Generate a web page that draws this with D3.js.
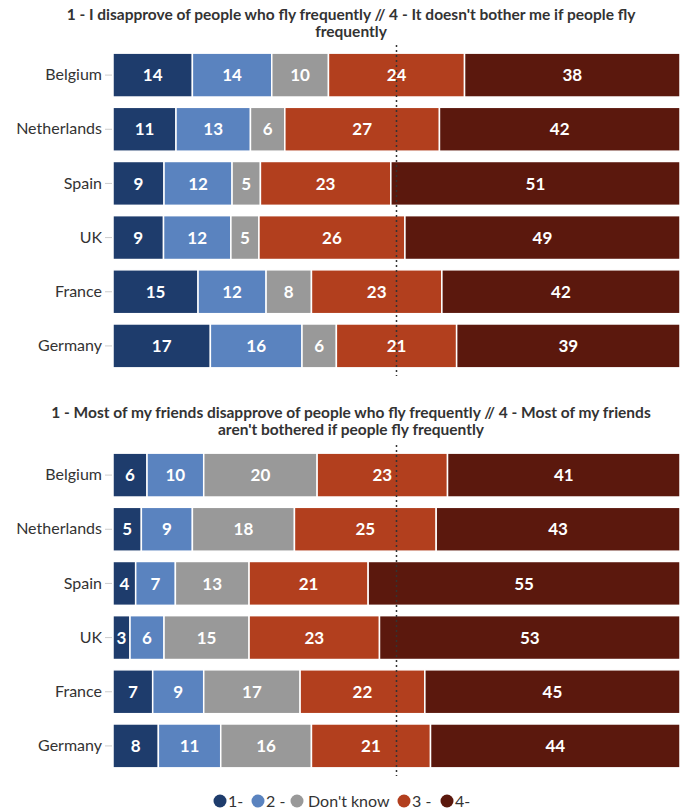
<!DOCTYPE html>
<html lang="en">
<head>
    <meta charset="UTF-8">
    <title>Attitudes to frequent flying</title>
    <script src="https://d3js.org/d3.v7.min.js"></script>
    <style>
        body {
            margin: 0;
            background: #fff;
            font-family: Lato, "Open Sans", sans-serif;
        }

        .title {
            font-size: 15.5px;
            font-weight: bold;
            fill: #333;
            text-anchor: middle;
        }

        .country {
            font-size: 16px;
            fill: #333;
            text-anchor: end;
        }

        .seg-label {
            font-size: 17px;
            font-weight: bold;
            fill: #fff;
            text-anchor: middle;
        }

        .legend text {
            font-size: 16px;
            fill: #333;
        }
    </style>
</head>
<body>
    <svg width="680" height="809"></svg>

    <script>
        var countries = ["Belgium", "Netherlands", "Spain", "UK", "France", "Germany"];
        var answers = ["1-", "2 -", "Don't know", "3 -", "4-"];
        var colors = ["#1e3c6c", "#5a83bf", "#999999", "#b23f1e", "#5b180d"];

        // values per country, in the order of answers
        var selfValues = [
            [14, 14, 10, 24, 38],
            [11, 13, 6, 27, 42],
            [9, 12, 5, 23, 51],
            [9, 12, 5, 26, 49],
            [15, 12, 8, 23, 42],
            [17, 16, 6, 21, 39]
        ];
        var friendsValues = [
            [6, 10, 20, 23, 41],
            [5, 9, 18, 25, 43],
            [4, 7, 13, 21, 55],
            [3, 6, 15, 23, 53],
            [7, 9, 17, 22, 45],
            [8, 11, 16, 21, 44]
        ];

        var titleSelf = ["1 - I disapprove of people who fly frequently // 4 - It doesn't bother me if people fly", "frequently"];
        var titleFriends = ["1 - Most of my friends disapprove of people who fly frequently // 4 - Most of my friends", "aren't bothered if people fly frequently"];

        var svg = d3.select("svg");

        var x = d3.scaleLinear().domain([0, 1]).range([113, 680]);

        function drawPanel(titleLines, titleY, values, yTop, yBottom) {
            var g = svg.append("g");

            g.selectAll(".title")
                .data(titleLines)
                .enter().append("text")
                .attr("class", "title")
                .attr("x", 351)
                .attr("y", function(d, i) { return titleY + i * 17; })
                .text(function(d) { return d; });

            var y = d3.scaleBand()
                .domain(countries)
                .range([yTop, yBottom])
                .paddingInner(0.19)
                .paddingOuter(0.095);

            // build rows as objects so d3.stack can use them
            var rows = countries.map(function(c, i) {
                var row = { country: c };
                answers.forEach(function(a, j) { row[a] = values[i][j]; });
                return row;
            });

            var stack = d3.stack().keys(answers).offset(d3.stackOffsetExpand);
            var series = stack(rows);

            var layer = g.selectAll(".layer")
                .data(series)
                .enter().append("g")
                .attr("class", "layer")
                .attr("fill", function(d, i) { return colors[i]; });

            layer.selectAll("rect")
                .data(function(d) { return d; })
                .enter().append("rect")
                .attr("x", function(d) { return x(d[0]); })
                .attr("y", function(d) { return y(d.data.country); })
                .attr("width", function(d) { return x(d[1]) - x(d[0]); })
                .attr("height", y.bandwidth())
                .attr("stroke", "#fff")
                .attr("stroke-width", 1.5);

            layer.selectAll(".seg-label")
                .data(function(d) { return d.map(function(p) { p.key = d.key; return p; }); })
                .enter().append("text")
                .attr("class", "seg-label")
                .attr("x", function(d) { return (x(d[0]) + x(d[1])) / 2; })
                .attr("y", function(d) { return y(d.data.country) + y.bandwidth() / 2; })
                .attr("dy", "0.36em")
                .text(function(d) { return d.data[d.key]; });

            // country labels with small ticks
            var axis = d3.axisLeft(y).tickSize(7).tickPadding(3);
            var ax = g.append("g")
                .attr("transform", "translate(" + (x(0) - 1) + ",0)")
                .call(axis);
            ax.select(".domain").remove();
            ax.selectAll(".tick line").attr("stroke", "#ccc");
            ax.selectAll(".tick text")
                .attr("class", "country")
                .attr("fill", "#333")
                .style("font-family", "Lato, 'Open Sans', sans-serif");

            // 50% reference line
            g.append("line")
                .attr("x1", x(0.5)).attr("x2", x(0.5))
                .attr("y1", yTop - 3).attr("y2", yBottom + 3)
                .attr("stroke", "#333")
                .attr("stroke-width", 1.5)
                .attr("stroke-dasharray", "2,3");
        }

        drawPanel(titleSelf, 20, selfValues, 48, 373);
        drawPanel(titleFriends, 418, friendsValues, 448, 773);

        // legend
        var legendX = [220, 258, 297, 404, 447];
        var legend = svg.append("g").attr("class", "legend");
        var item = legend.selectAll("g")
            .data(answers)
            .enter().append("g")
            .attr("transform", function(d, i) { return "translate(" + legendX[i] + ",801)"; });
        item.append("circle")
            .attr("r", 6.5)
            .attr("fill", function(d, i) { return colors[i]; });
        item.append("text")
            .attr("x", function(d, i) { return i == 2 ? 11 : 8; })
            .attr("dy", "0.36em")
            .text(function(d) { return d; });
    </script>
</body>
</html>
